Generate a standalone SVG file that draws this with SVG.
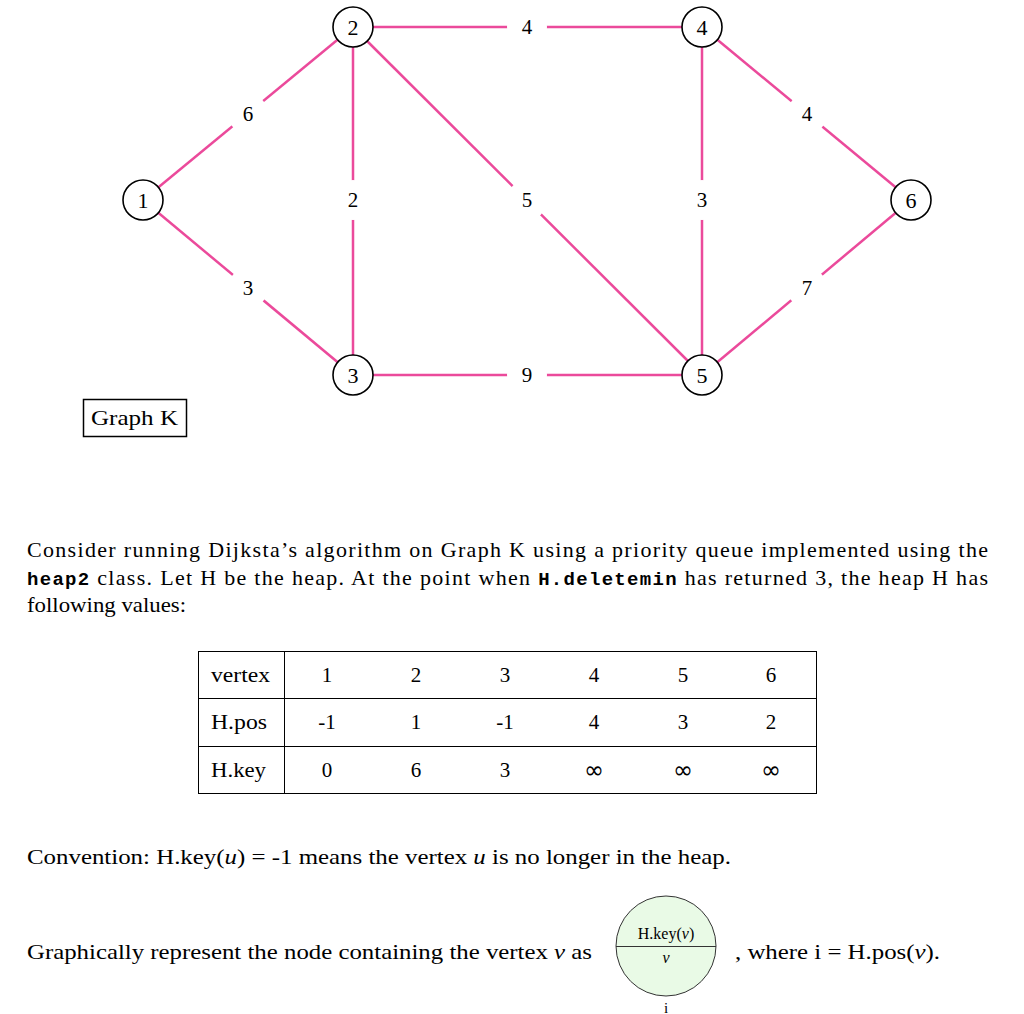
<svg xmlns="http://www.w3.org/2000/svg" width="1024" height="1014" viewBox="0 0 1024 1014">
<style>
text{font-family:"Liberation Serif","DejaVu Serif",serif;fill:#000}
.e{stroke:#EB4A9B;stroke-width:2.5;fill:none}
.lb{fill:#fff;stroke:none}
.n{fill:#fff;stroke:#000;stroke-width:1.6}
.nt{font-size:22px;text-anchor:middle}
.el{font-size:21px;text-anchor:middle}
.p{font-size:22px}
.m{font-family:"Liberation Mono","DejaVu Sans Mono",monospace;font-weight:bold;font-size:19px}
.t{font-size:21px;text-anchor:middle}
.inf{font-family:"DejaVu Sans",sans-serif;font-size:24px;text-anchor:middle}
.g{stroke:#000;stroke-width:1;fill:none}
</style>
<rect width="1024" height="1014" fill="#fff"/>
<g id="connectors">
<line class="e" x1="143" y1="200" x2="353" y2="27"/>
<line class="e" x1="143" y1="200" x2="353" y2="375"/>
<line class="e" x1="353" y1="27" x2="353" y2="375"/>
<line class="e" x1="353" y1="27" x2="702" y2="27"/>
<line class="e" x1="353" y1="27" x2="702" y2="375"/>
<line class="e" x1="353" y1="375" x2="702" y2="375"/>
<line class="e" x1="702" y1="27" x2="702" y2="375"/>
<line class="e" x1="702" y1="27" x2="911" y2="200"/>
<line class="e" x1="702" y1="375" x2="911" y2="200"/>
<circle class="lb" cx="248" cy="114" r="20"/><text class="el" x="248" y="121">6</text>
<circle class="lb" cx="248" cy="288" r="20"/><text class="el" x="248" y="295">3</text>
<circle class="lb" cx="353" cy="200" r="20"/><text class="el" x="353" y="207">2</text>
<circle class="lb" cx="527" cy="27" r="20"/><text class="el" x="527" y="34">4</text>
<circle class="lb" cx="527" cy="200" r="20"/><text class="el" x="527" y="207">5</text>
<circle class="lb" cx="527" cy="375" r="20"/><text class="el" x="527" y="382">9</text>
<circle class="lb" cx="702" cy="200" r="20"/><text class="el" x="702" y="207">3</text>
<circle class="lb" cx="807" cy="114" r="20"/><text class="el" x="807" y="121">4</text>
<circle class="lb" cx="807" cy="288" r="20"/><text class="el" x="807" y="295">7</text>
</g>
<g id="node1"><circle class="n" cx="143" cy="200" r="20"/><text class="nt" x="143" y="207.5">1</text></g>
<g id="node2"><circle class="n" cx="353" cy="27" r="20"/><text class="nt" x="353" y="34.5">2</text></g>
<g id="node3"><circle class="n" cx="353" cy="375" r="20"/><text class="nt" x="353" y="382.5">3</text></g>
<g id="node4"><circle class="n" cx="702" cy="27" r="20"/><text class="nt" x="702" y="34.5">4</text></g>
<g id="node5"><circle class="n" cx="702" cy="375" r="20"/><text class="nt" x="702" y="382.5">5</text></g>
<g id="node6"><circle class="n" cx="911" cy="200" r="20"/><text class="nt" x="911" y="207.5">6</text></g>
<g id="label-graphK">
<rect x="83.5" y="399.5" width="103" height="37" fill="#fff" stroke="#000" stroke-width="1.5"/>
<text class="p" x="91" y="425" textLength="87" lengthAdjust="spacingAndGlyphs">Graph K</text>
</g>
<g id="paragraph">
<text class="p" x="27" y="557" textLength="961" lengthAdjust="spacing">Consider running Dijksta’s algorithm on Graph K using a priority queue implemented using the</text>
<text class="p" x="27" y="585" textLength="961" lengthAdjust="spacing"><tspan class="m">heap2</tspan> class. Let H be the heap. At the point when <tspan class="m">H.deletemin</tspan> has returned 3, the heap H has</text>
<text class="p" x="27" y="612" textLength="159" lengthAdjust="spacingAndGlyphs">following values:</text>
</g>
<g id="table">
<rect x="198.5" y="651.5" width="618" height="142" fill="#fff" stroke="#000" stroke-width="1"/>
<line class="g" x1="198" y1="698.5" x2="816" y2="698.5"/>
<line class="g" x1="198" y1="746.5" x2="816" y2="746.5"/>
<line class="g" x1="284.5" y1="651" x2="284.5" y2="793"/>
<text x="211" y="682" font-size="21" textLength="59" lengthAdjust="spacingAndGlyphs">vertex</text>
<text x="211" y="729" font-size="21" textLength="56" lengthAdjust="spacingAndGlyphs">H.pos</text>
<text x="211" y="777" font-size="21" textLength="55" lengthAdjust="spacingAndGlyphs">H.key</text>
<text class="t" x="327" y="682">1</text><text class="t" x="416" y="682">2</text><text class="t" x="505" y="682">3</text><text class="t" x="594" y="682">4</text><text class="t" x="683" y="682">5</text><text class="t" x="771" y="682">6</text>
<text class="t" x="327" y="729">-1</text><text class="t" x="416" y="729">1</text><text class="t" x="505" y="729">-1</text><text class="t" x="594" y="729">4</text><text class="t" x="683" y="729">3</text><text class="t" x="771" y="729">2</text>
<text class="t" x="327" y="777">0</text><text class="t" x="416" y="777">6</text><text class="t" x="505" y="777">3</text><text class="inf" x="594" y="778">∞</text><text class="inf" x="683" y="778">∞</text><text class="inf" x="771" y="778">∞</text>
</g>
<g id="convention">
<text class="p" x="27" y="864" textLength="704" lengthAdjust="spacingAndGlyphs">Convention: H.key(<tspan font-style="italic">u</tspan>) = -1 means the vertex <tspan font-style="italic">u</tspan> is no longer in the heap.</text>
</g>
<g id="legend">
<text class="p" x="27" y="959" textLength="565" lengthAdjust="spacingAndGlyphs">Graphically represent the node containing the vertex <tspan font-style="italic">v</tspan> as</text>
<circle cx="666" cy="946" r="50" fill="#E9FAE6" stroke="#333" stroke-width="1"/>
<line x1="616" y1="946.5" x2="716" y2="946.5" stroke="#333" stroke-width="1"/>
<text x="666" y="939" font-size="16" text-anchor="middle">H.key(<tspan font-style="italic">v</tspan>)</text>
<text x="666" y="963" font-size="16" text-anchor="middle" font-style="italic">v</text>
<text x="666" y="1013" font-size="15" text-anchor="middle">i</text>
<text class="p" x="735" y="959" textLength="205" lengthAdjust="spacingAndGlyphs">,  where i = H.pos(<tspan font-style="italic">v</tspan>).</text>
</g>
</svg>
